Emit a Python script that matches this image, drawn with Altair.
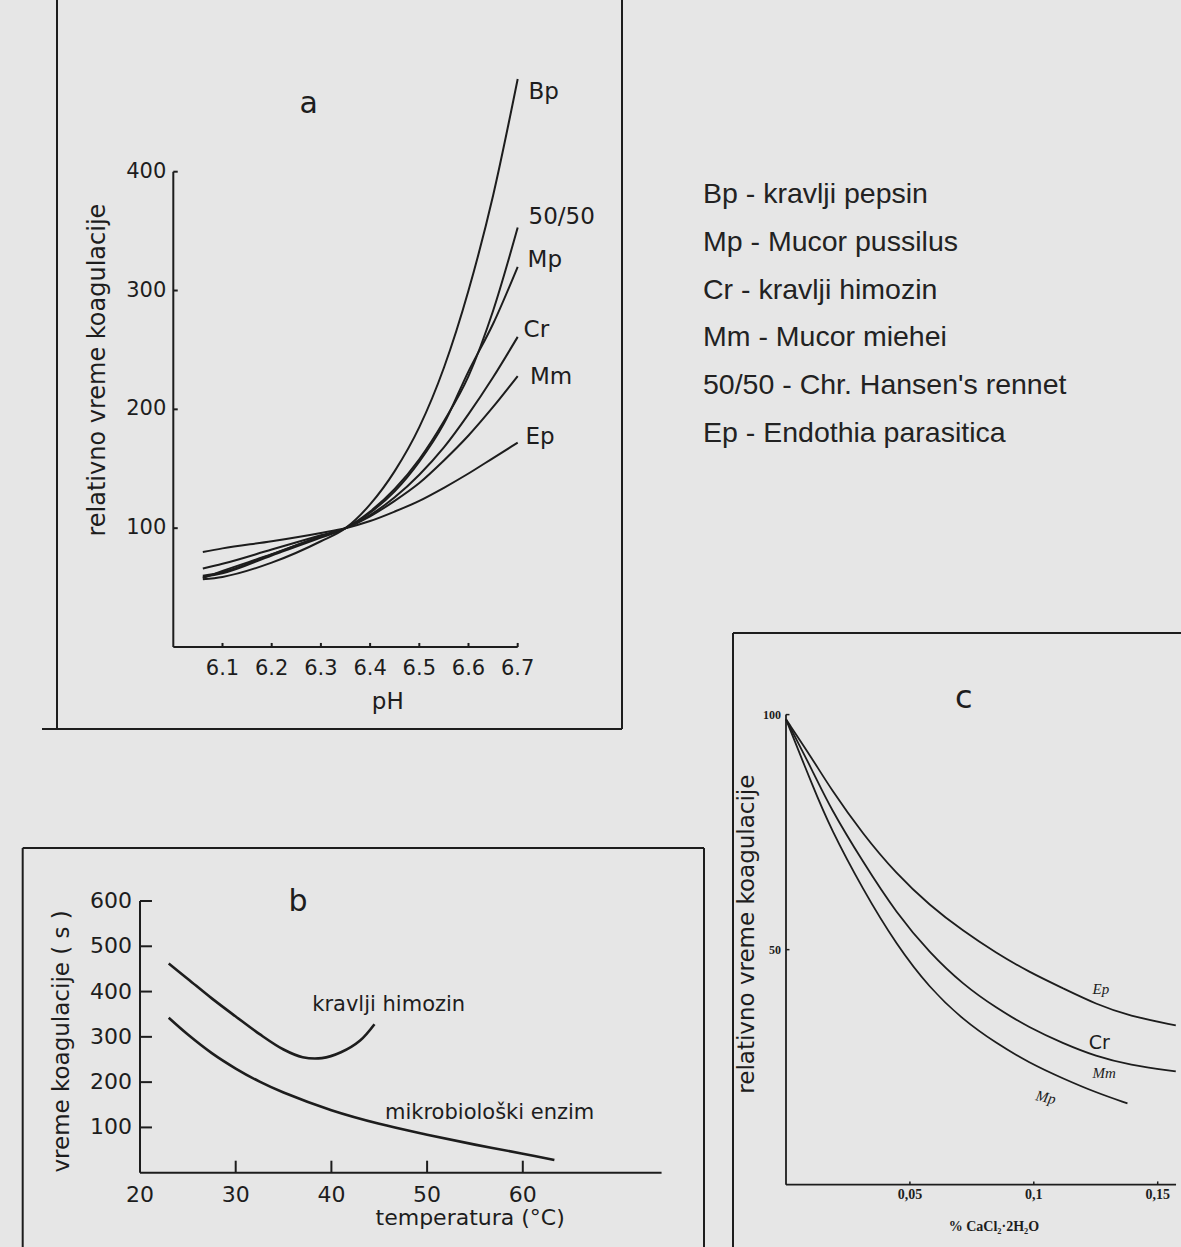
import altair as alt
import pandas as pd

# ---------------- data ----------------
# panel a : relative coagulation time vs pH
PH = [6.06, 6.1, 6.2, 6.3, 6.35, 6.4, 6.45, 6.5, 6.55, 6.6, 6.65, 6.7]
A_BP = [57, 59, 71, 89, 100, 120, 148, 185, 235, 300, 380, 478]
A_5050 = [59, 62, 77, 92, 100, 114, 133, 158, 190, 228, 283, 353]
A_MP = [60, 63, 78, 93, 100, 113, 131, 156, 188, 232, 272, 320]
A_CR = [66, 70, 82, 94, 100, 111, 126, 145, 168, 196, 227, 261]
A_MM = [58, 64, 78, 93, 100, 110, 123, 138, 157, 178, 202, 228]
A_EP = [80, 83, 89, 96, 100, 106, 114, 123, 134, 146, 159, 172]
A_SERIES = ["Bp", "50/50", "Mp", "Cr", "Mm", "Ep"]
A_LAB_X = [6.722, 6.722, 6.72, 6.712, 6.725, 6.716]
A_LAB_Y = [461, 356, 320, 261, 221, 171]
A_XTICKS = [6.1, 6.2, 6.3, 6.4, 6.5, 6.6, 6.7]
A_YTICKS = [100, 200, 300, 400]

# panel b : coagulation time (s) vs temperature
B_HIM_T = [23, 25, 27.5, 30, 32.5, 35, 37, 39, 41, 43, 44.5]
B_HIM_V = [462, 428, 385, 345, 306, 272, 255, 253, 266, 292, 328]
B_MIC_T = [23, 25, 27.5, 30, 32.5, 35, 40, 45, 50, 55, 60, 63.3]
B_MIC_V = [342, 305, 264, 230, 201, 177, 138, 108, 84, 62, 42, 28]
B_XTICKS = [20, 30, 40, 50, 60]
B_YTICKS = [100, 200, 300, 400, 500, 600]

# panel c : relative coagulation time vs % CaCl2.2H2O
C_X = [0.0, 0.011, 0.0177, 0.0311, 0.0446, 0.058, 0.0714, 0.0848, 0.0982, 0.1117, 0.1251, 0.1385, 0.1573]
C_EP = [99, 90.3, 84.5, 74.5, 66.1, 59.4, 54.0, 49.3, 45.2, 41.8, 38.4, 35.9, 33.9]
C_CR = [99, 87.8, 80.3, 68.6, 57.7, 49.3, 42.6, 37.6, 33.4, 30.1, 27.3, 25.5, 24.1]
C_MP_X = [0.0, 0.011, 0.0177, 0.0311, 0.0446, 0.058, 0.0714, 0.0848, 0.0982, 0.1117, 0.1251, 0.1378]
C_MP = [99, 84.5, 76.1, 62.7, 51.0, 41.8, 35.1, 30.1, 25.9, 22.6, 19.6, 17.3]
C_XTICKS = [0.05, 0.1, 0.15]
C_XTICK_LABELS = ["0,05", "0,1", "0,15"]
C_YTICKS = [50, 100]

LEGEND = [
    "Bp - kravlji pepsin",
    "Mp - Mucor pussilus",
    "Cr - kravlji himozin",
    "Mm - Mucor miehei",
    "50/50 - Chr. Hansen's rennet",
    "Ep - Endothia parasitica",
]

# ---------------- styling ----------------
W, H = 1181, 1247
INK = "#1d1d1d"
BG = "#e6e6e6"
SANS = "DejaVu Sans"
SERIF = "Liberation Serif"


def scale(domain, rng):
    return alt.Scale(domain=domain, range=rng, nice=False, zero=False)


def enc(xf, yf, xs, ys):
    return dict(x=alt.X(xf, scale=xs, axis=None), y=alt.Y(yf, scale=ys, axis=None))


# ---------------- frames (page boxes) ----------------
def vrule(x, y1, y2):
    return alt.Chart(pd.DataFrame({"k": [0]})).mark_rule(color=INK, strokeWidth=2).encode(
        x=alt.value(x), y=alt.value(y1), y2=alt.value(y2))


def hrule(y, x1, x2):
    return alt.Chart(pd.DataFrame({"k": [0]})).mark_rule(color=INK, strokeWidth=2).encode(
        y=alt.value(y), x=alt.value(x1), x2=alt.value(x2))


frames = alt.layer(
    vrule(57, -5, 729), vrule(622, -5, 729), hrule(729, 42, 622),
    hrule(848, 22.7, 704), vrule(22.7, 848, 1260), vrule(704, 848, 1260),
    hrule(633, 733, 1190), vrule(733, 633, 1260),
)

# ---------------- panel a ----------------
XA = scale([6.0, 6.7], [173.3, 517.7])
YA = scale([0, 400], [647, 171.7])
rows = []
for name, vals in zip(A_SERIES, [A_BP, A_5050, A_MP, A_CR, A_MM, A_EP]):
    for p, v in zip(PH, vals):
        rows.append({"pH": p, "v": v, "s": name})
dfa = pd.DataFrame(rows)

a_lines = alt.Chart(dfa).mark_line(color=INK, strokeWidth=2, interpolate="monotone").encode(
    **enc("pH:Q", "v:Q", XA, YA), detail="s:N")
a_axes = alt.Chart(pd.DataFrame({"x": [6.0], "x2": [6.7], "y": [0], "y2": [400]}))
a_xaxis = a_axes.mark_rule(color=INK, strokeWidth=2).encode(**enc("x:Q", "y:Q", XA, YA), x2="x2:Q")
a_yaxis = a_axes.mark_rule(color=INK, strokeWidth=2).encode(**enc("x:Q", "y:Q", XA, YA), y2="y2:Q")
a_xt = pd.DataFrame({"x": A_XTICKS, "y": [0] * 7, "y2": [3.4] * 7, "t": [f"{v:.1f}" for v in A_XTICKS]})
a_yt = pd.DataFrame({"x": [6.0] * 4, "x2": [6.009] * 4, "y": A_YTICKS, "t": [str(v) for v in A_YTICKS]})
a_xticks = alt.Chart(a_xt).mark_rule(color=INK, strokeWidth=2).encode(**enc("x:Q", "y:Q", XA, YA), y2="y2:Q")
a_yticks = alt.Chart(a_yt).mark_rule(color=INK, strokeWidth=2).encode(**enc("x:Q", "y:Q", XA, YA), x2="x2:Q")
a_xlab = alt.Chart(a_xt).mark_text(font=SANS, fontSize=21, color=INK, baseline="alphabetic", dy=28).encode(
    **enc("x:Q", "y:Q", XA, YA), text="t:N")
a_ylab = alt.Chart(a_yt).mark_text(font=SANS, fontSize=21, color=INK, align="right", baseline="middle", dx=-7).encode(
    **enc("x:Q", "y:Q", XA, YA), text="t:N")
a_clab = alt.Chart(pd.DataFrame({"x": A_LAB_X, "y": A_LAB_Y, "t": A_SERIES})).mark_text(
    font=SANS, fontSize=23, color=INK, align="left", baseline="alphabetic").encode(
    **enc("x:Q", "y:Q", XA, YA), text="t:N")
a_title_x = alt.Chart(pd.DataFrame({"x": [6.436], "y": [0], "t": ["pH"]})).mark_text(
    font=SANS, fontSize=23, color=INK, baseline="alphabetic", dy=62).encode(
    **enc("x:Q", "y:Q", XA, YA), text="t:N")
a_title_y = alt.Chart(pd.DataFrame({"x": [5.847], "y": [233], "t": ["relativno vreme koagulacije"]})).mark_text(
    font=SANS, fontSize=24, color=INK, angle=270, baseline="middle").encode(
    **enc("x:Q", "y:Q", XA, YA), text="t:N")
a_letter = alt.Chart(pd.DataFrame({"x": [6.275], "y": [457], "t": ["a"]})).mark_text(
    font=SANS, fontSize=30, color=INK, baseline="middle").encode(
    **enc("x:Q", "y:Q", XA, YA), text="t:N")
panel_a = alt.layer(a_lines, a_xaxis, a_yaxis, a_xticks, a_yticks, a_xlab, a_ylab, a_clab,
                    a_title_x, a_title_y, a_letter)

# ---------------- panel b ----------------
XB = scale([20, 60], [140, 522.8])
YB = scale([0, 600], [1172.7, 901])
dfb = pd.DataFrame(
    [{"t": t, "v": v, "s": "him"} for t, v in zip(B_HIM_T, B_HIM_V)]
    + [{"t": t, "v": v, "s": "mic"} for t, v in zip(B_MIC_T, B_MIC_V)])
b_lines = alt.Chart(dfb).mark_line(color=INK, strokeWidth=2.6, interpolate="catmull-rom").encode(
    **enc("t:Q", "v:Q", XB, YB), detail="s:N")
b_axes = alt.Chart(pd.DataFrame({"x": [20], "x2": [74.5], "y": [0], "y2": [600]}))
b_xaxis = b_axes.mark_rule(color=INK, strokeWidth=2).encode(**enc("x:Q", "y:Q", XB, YB), x2="x2:Q")
b_yaxis = b_axes.mark_rule(color=INK, strokeWidth=2).encode(**enc("x:Q", "y:Q", XB, YB), y2="y2:Q")
b_xt = pd.DataFrame({"x": B_XTICKS, "y": [0] * 5, "y2": [26.5] * 5, "t": [str(v) for v in B_XTICKS]})
b_yt = pd.DataFrame({"x": [20] * 6, "x2": [21.25] * 6, "y": B_YTICKS, "t": [str(v) for v in B_YTICKS]})
b_xticks = alt.Chart(b_xt[b_xt.x > 20]).mark_rule(color=INK, strokeWidth=2).encode(
    **enc("x:Q", "y:Q", XB, YB), y2="y2:Q")
b_yticks = alt.Chart(b_yt).mark_rule(color=INK, strokeWidth=2).encode(**enc("x:Q", "y:Q", XB, YB), x2="x2:Q")
b_xlab = alt.Chart(b_xt).mark_text(font=SANS, fontSize=22, color=INK, baseline="alphabetic", dy=29).encode(
    **enc("x:Q", "y:Q", XB, YB), text="t:N")
b_ylab = alt.Chart(b_yt).mark_text(font=SANS, fontSize=22, color=INK, align="right", baseline="middle", dx=-8).encode(
    **enc("x:Q", "y:Q", XB, YB), text="t:N")
b_clab = alt.Chart(pd.DataFrame({"x": [38.0, 45.6], "y": [357, 118],
                                 "t": ["kravlji himozin", "mikrobiološki enzim"]})).mark_text(
    font=SANS, fontSize=21, color=INK, align="left", baseline="alphabetic").encode(
    **enc("x:Q", "y:Q", XB, YB), text="t:N")
b_title_x = alt.Chart(pd.DataFrame({"x": [54.5], "y": [0], "t": ["temperatura (°C)"]})).mark_text(
    font=SANS, fontSize=22, color=INK, baseline="alphabetic", dy=52).encode(**enc("x:Q", "y:Q", XB, YB), text="t:N")
b_title_y = alt.Chart(pd.DataFrame({"x": [11.8], "y": [290], "t": ["vreme koagulacije ( s )"]})).mark_text(
    font=SANS, fontSize=23, color=INK, angle=270, baseline="middle").encode(**enc("x:Q", "y:Q", XB, YB), text="t:N")
b_letter = alt.Chart(pd.DataFrame({"x": [36.5], "y": [598], "t": ["b"]})).mark_text(
    font=SANS, fontSize=30, color=INK, baseline="middle").encode(**enc("x:Q", "y:Q", XB, YB), text="t:N")
panel_b = alt.layer(b_lines, b_xaxis, b_yaxis, b_xticks, b_yticks, b_xlab, b_ylab, b_clab,
                    b_title_x, b_title_y, b_letter)

# ---------------- panel c ----------------
XC = scale([0, 0.15], [786, 1157.7])
YC = scale([0, 100], [1184.7, 714.6])
dfc = pd.DataFrame(
    [{"x": x, "v": v, "s": "Ep"} for x, v in zip(C_X, C_EP)]
    + [{"x": x, "v": v, "s": "Cr"} for x, v in zip(C_X, C_CR)]
    + [{"x": x, "v": v, "s": "Mp"} for x, v in zip(C_MP_X, C_MP)])
c_lines = alt.Chart(dfc).mark_line(color=INK, strokeWidth=1.8, interpolate="basis").encode(
    **enc("x:Q", "v:Q", XC, YC), detail="s:N")
c_axes = alt.Chart(pd.DataFrame({"x": [0.0], "x2": [0.1574], "y": [0], "y2": [100]}))
c_xaxis = c_axes.mark_rule(color=INK, strokeWidth=1.8).encode(**enc("x:Q", "y:Q", XC, YC), x2="x2:Q")
c_yaxis = c_axes.mark_rule(color=INK, strokeWidth=1.8).encode(**enc("x:Q", "y:Q", XC, YC), y2="y2:Q")
c_xt = pd.DataFrame({"x": C_XTICKS, "y": [0] * 3, "y2": [0.7] * 3, "t": C_XTICK_LABELS})
c_yt = pd.DataFrame({"x": [0.0] * 2, "x2": [0.0014] * 2, "y": C_YTICKS, "t": [str(v) for v in C_YTICKS]})
c_xticks = alt.Chart(c_xt).mark_rule(color=INK, strokeWidth=1.5).encode(**enc("x:Q", "y:Q", XC, YC), y2="y2:Q")
c_yticks = alt.Chart(c_yt).mark_rule(color=INK, strokeWidth=1.5).encode(**enc("x:Q", "y:Q", XC, YC), x2="x2:Q")
c_xlab = alt.Chart(c_xt).mark_text(font=SERIF, fontSize=14, fontWeight="bold", color=INK,
                                   baseline="alphabetic", dy=14).encode(**enc("x:Q", "y:Q", XC, YC), text="t:N")
c_ylab = alt.Chart(c_yt).mark_text(font=SERIF, fontSize=12, fontWeight="bold", color=INK, align="right",
                                   baseline="middle", dx=-5).encode(**enc("x:Q", "y:Q", XC, YC), text="t:N")
c_lab_serif = alt.Chart(pd.DataFrame({"x": [0.1237, 0.1237, 0.1005], "y": [40.5, 22.7, 18.0],
                                      "t": ["Ep", "Mm", "Mp"], "a": [0, 0, 12]})).mark_text(
    font=SERIF, fontSize=15, fontStyle="italic", color=INK, align="left", baseline="alphabetic").encode(
    **enc("x:Q", "y:Q", XC, YC), text="t:N", angle=alt.Angle("a:Q", scale=None))
c_lab_cr = alt.Chart(pd.DataFrame({"x": [0.1222], "y": [28.8], "t": ["Cr"]})).mark_text(
    font=SANS, fontSize=19, color=INK, align="left", baseline="alphabetic").encode(
    **enc("x:Q", "y:Q", XC, YC), text="t:N")
c_title_x = alt.Chart(pd.DataFrame({"x": [0.0839], "y": [0], "t": ["% CaCl₂·2H₂O"]})).mark_text(
    font=SERIF, fontSize=14, fontWeight="bold", color=INK, baseline="alphabetic", dy=46).encode(
    **enc("x:Q", "y:Q", XC, YC), text="t:N")
c_title_y = alt.Chart(pd.DataFrame({"x": [-0.0159], "y": [53.3], "t": ["relativno vreme koagulacije"]})).mark_text(
    font=SANS, fontSize=23, color=INK, angle=270, baseline="middle").encode(**enc("x:Q", "y:Q", XC, YC), text="t:N")
c_letter = alt.Chart(pd.DataFrame({"x": [0.0718], "y": [103.5], "t": ["c"]})).mark_text(
    font=SANS, fontSize=32, color=INK, baseline="middle").encode(**enc("x:Q", "y:Q", XC, YC), text="t:N")
panel_c = alt.layer(c_lines, c_xaxis, c_yaxis, c_xticks, c_yticks, c_xlab, c_ylab, c_lab_serif, c_lab_cr,
                    c_title_x, c_title_y, c_letter)

# ---------------- legend text ----------------
YL = scale([0, 5], [203, 442])
legend = alt.Chart(pd.DataFrame({"i": list(range(len(LEGEND))), "t": LEGEND})).mark_text(
    font="Liberation Sans", fontSize=28.5, color="#222222", align="left", baseline="alphabetic").encode(
    x=alt.value(703), y=alt.Y("i:Q", scale=YL, axis=None), text="t:N")

chart = alt.layer(frames, panel_a, panel_b, panel_c, legend).resolve_scale(
    x="independent", y="independent"
).properties(
    width=W, height=H, background=BG, padding=0,
    autosize=alt.AutoSizeParams(type="none"),
).configure_view(stroke=None)

chart.save("out.html", embed_options={"renderer": "svg", "actions": False})
